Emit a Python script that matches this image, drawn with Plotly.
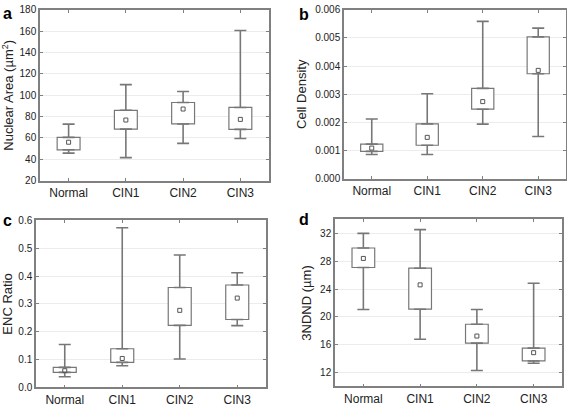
import plotly.graph_objects as go

categories = ["Normal", "CIN1", "CIN2", "CIN3"]

# panel a: Nuclear Area (µm²)
a_low = [45.8, 41.6, 54.9, 59.5]
a_q1 = [48.9, 68.3, 73.1, 68.0]
a_med = [56.0, 76.8, 87.1, 77.4]
a_q3 = [60.5, 85.9, 93.2, 88.6]
a_high = [73.0, 110.0, 103.5, 160.6]

# panel b: Cell Density
b_low = [0.00086, 0.00086, 0.00194, 0.00150]
b_q1 = [0.00097, 0.00119, 0.00247, 0.00373]
b_med = [0.00109, 0.00147, 0.00274, 0.00385]
b_q3 = [0.00123, 0.00195, 0.00321, 0.00504]
b_high = [0.00212, 0.00302, 0.00559, 0.00535]

# panel c: ENC Ratio
c_low = [0.038, 0.078, 0.102, 0.222]
c_q1 = [0.054, 0.090, 0.223, 0.244]
c_med = [0.060, 0.104, 0.277, 0.321]
c_q3 = [0.072, 0.139, 0.359, 0.368]
c_high = [0.154, 0.574, 0.476, 0.412]

# panel d: 3NDND (µm)
d_low = [21.06, 16.78, 12.28, 13.33]
d_q1 = [27.1, 21.1, 16.23, 13.66]
d_med = [28.4, 24.6, 17.24, 14.85]
d_q3 = [29.9, 27.0, 18.94, 15.5]
d_high = [32.0, 32.55, 21.06, 24.83]

panels = [
    dict(low=a_low, q1=a_q1, med=a_med, q3=a_q3, high=a_high,
         title="Nuclear Area (µm<sup>2</sup>)", yrange=[20, 180], dtick=20, fmt="d",
         xdom=[0.0705, 0.4744], ydom=[0.5553, 0.9877], letter="a", lx=0.014, ly=0.978),
    dict(low=b_low, q1=b_q1, med=b_med, q3=b_q3, high=b_high,
         title="Cell Density", yrange=[0, 0.006], dtick=0.001, fmt=".3f",
         xdom=[0.6067, 0.9982], ydom=[0.5602, 0.9877], letter="b", lx=0.536, ly=0.975),
    dict(low=c_low, q1=c_q1, med=c_med, q3=c_q3, high=c_high,
         title="ENC Ratio", yrange=[0, 0.6], dtick=0.1, fmt=".1f",
         xdom=[0.0635, 0.4691], ydom=[0.0319, 0.4545], letter="c", lx=0.014, ly=0.455),
    dict(low=d_low, q1=d_q1, med=d_med, q3=d_q3, high=d_high,
         title="3NDND (µm)", yrange=[10, 34], dtick=4, fmt="d",
         xdom=[0.5908, 0.9912], ydom=[0.0344, 0.457], letter="d", lx=0.536, ly=0.457),
]

LINE = "#777777"
fig = go.Figure()
annotations = []
for i, p in enumerate(panels):
    n = "" if i == 0 else str(i + 1)
    xa, ya = "x" + n, "y" + n
    size = [h - l for h, l in zip(p["q3"], p["q1"])]
    up = [h - q for h, q in zip(p["high"], p["q3"])]
    down = [q - l for q, l in zip(p["q1"], p["low"])]
    zeros = [0] * len(categories)
    fig.add_trace(go.Bar(
        x=categories, y=size, base=p["q1"], width=0.4,
        marker=dict(color="white", line=dict(color=LINE, width=1.2)),
        error_y=dict(type="data", symmetric=False, array=up, arrayminus=zeros,
                     color=LINE, thickness=1.6, width=6),
        xaxis=xa, yaxis=ya, showlegend=False, hoverinfo="skip"))
    fig.add_trace(go.Scatter(
        x=categories, y=p["q1"], mode="markers",
        marker=dict(size=1, color="rgba(0,0,0,0)"),
        error_y=dict(type="data", symmetric=False, array=zeros, arrayminus=down,
                     color=LINE, thickness=1.6, width=6),
        xaxis=xa, yaxis=ya, showlegend=False, hoverinfo="skip"))
    fig.add_trace(go.Scatter(
        x=categories, y=p["med"], mode="markers",
        marker=dict(symbol="square-open", size=4, color="#555555", line=dict(width=1)),
        xaxis=xa, yaxis=ya, showlegend=False))
    fig.update_layout(**{
        "xaxis" + n: dict(domain=p["xdom"], anchor=ya, showline=True, mirror="ticks",
                          linecolor="#808080", linewidth=1.5, ticks="inside", ticklen=3,
                          tickcolor="#808080", showgrid=False,
                          tickfont=dict(family="Liberation Sans, Arial", size=12, color="#222")),
        "yaxis" + n: dict(domain=p["ydom"], anchor=xa, range=p["yrange"], dtick=p["dtick"],
                          tickformat=p["fmt"], showline=True, mirror="ticks",
                          linecolor="#808080", linewidth=1.5, ticks="inside", ticklen=3,
                          tickcolor="#808080", showgrid=True, gridcolor="#ececec",
                          zeroline=False,
                          tickfont=dict(family="Liberation Sans, Arial", size=10, color="#222"),
                          title=dict(text=p["title"], standoff=6,
                                     font=dict(family="Liberation Sans, Arial", size=13, color="#222"))),
    })
    annotations.append(dict(text="<b>" + p["letter"] + "</b>", x=p["lx"], y=p["ly"],
                            xref="paper", yref="paper", showarrow=False,
                            xanchor="center", yanchor="middle",
                            font=dict(family="Liberation Sans, Arial", size=16, color="black")))

fig.update_layout(width=567, height=407, margin=dict(l=0, r=0, t=0, b=0),
                  barmode="overlay", plot_bgcolor="white", paper_bgcolor="white",
                  annotations=annotations)
fig.write_html("out.html", config={"displayModeBar": False},
               post_script="document.body.style.margin='0';document.body.style.overflow='hidden';")
